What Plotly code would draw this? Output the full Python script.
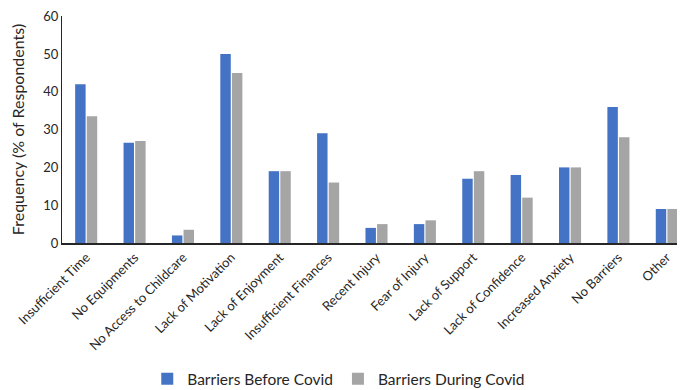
import plotly.graph_objects as go

categories = ["Insufficient Time", "No Equipments", "No Access to Childcare", "Lack of Motivation",
              "Lack of Enjoyment", "Insufficient Finances", "Recent Injury", "Fear of Injury",
              "Lack of Support", "Lack of Confidence", "Increased Anxiety", "No Barriers", "Other"]
before = [42, 26.5, 2, 50, 19, 29, 4, 5, 17, 18, 20, 36, 9]
during = [33.5, 27, 3.5, 45, 19, 16, 5, 6, 19, 12, 20, 28, 9]
y_ticks = [0, 10, 20, 30, 40, 50, 60]

FONT = "Lato"

fig = go.Figure()
fig.add_trace(go.Bar(x=categories, y=before, name="Barriers Before Covid",
                     marker=dict(color="#4472C4", line=dict(width=0))))
fig.add_trace(go.Bar(x=categories, y=during, name="Barriers During Covid",
                     marker=dict(color="#A5A5A5", line=dict(width=0))))

fig.update_layout(
    width=685, height=390,
    margin=dict(l=54, r=2, t=8, b=151),
    paper_bgcolor="white", plot_bgcolor="white",
    barmode="group", bargap=0.52, bargroupgap=0.1,
    font=dict(family=FONT, color="#262626", size=13),
    showlegend=True,
    legend=dict(orientation="h", x=0.44, xanchor="center", y=-0.6, yanchor="middle",
                font=dict(size=15.5, family=FONT), traceorder="normal",
                itemwidth=30),
    xaxis=dict(tickangle=-45, showline=True, linecolor="#262626", linewidth=1.5,
               tickfont=dict(size=13, family=FONT), ticks="", showgrid=False,
               automargin=False),
    yaxis=dict(range=[0, 60.05], tickvals=y_ticks, showline=True, linecolor="#262626", linewidth=1,
               showgrid=False, zeroline=False, ticks="", automargin=False,
               ticklabeloverflow="allow",
               tickfont=dict(size=13, family=FONT),
               title=dict(text="Frequency (% of Respondents)", font=dict(size=16, family=FONT), standoff=16)),
)

fig.write_html("out.html")
